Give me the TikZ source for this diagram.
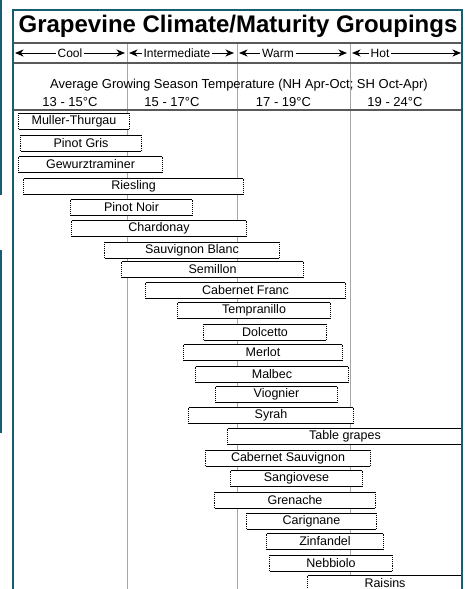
\documentclass[tikz,border=0pt]{standalone}
\usepackage{fontspec}
\setmainfont{Liberation Sans}
\usetikzlibrary{arrows.meta}

\definecolor{frameteal}{RGB}{22,94,112}

\begin{document}
\begin{tikzpicture}[
  x=1pt, y=-1pt,
  bar/.style={rectangle, fill=white, minimum height=15.5pt, inner sep=0pt, font=\fontsize{12.5}{14}\selectfont},
  outline/.style={line width=0.9pt},
  zonearrow/.style={{Stealth[length=8.5pt,width=7pt,inset=2.5pt]}-{Stealth[length=8.5pt,width=7pt,inset=2.5pt]}, line width=1pt},
  zone/.style={fill=white, inner sep=2pt, font=\fontsize{12}{14}\selectfont},
  temp/.style={anchor=base, font=\fontsize{13}{15}\selectfont},
  hrule/.style={black!65, line width=1.5pt},
  colsep/.style={black!35, line width=1pt}
]
\useasboundingbox (0,0) rectangle (469,589);
\clip (0,0) rectangle (469,589);

% Column separators
\draw[colsep] (127.5,43) -- (127.5,589);
\draw[colsep] (237,43) -- (237,589);
\draw[colsep] (350,43) -- (350,589);

% Header rules
\draw[hrule] (14,43) -- (461,43);
\draw[hrule] (14,63) -- (461,63);
\draw[hrule] (14,110) -- (461,110);

% Title
\node[anchor=base, font=\fontsize{24}{28}\selectfont\bfseries] (title) at (238,32)
  {Grapevine Climate/Maturity Groupings};

% Climate zones
\coordinate (coolL) at (15,53);  \coordinate (coolR) at (125,53);
\coordinate (interL) at (129,53); \coordinate (interR) at (234,53);
\coordinate (warmL) at (239,53);  \coordinate (warmR) at (347,53);
\coordinate (hotL) at (352,53);   \coordinate (hotR) at (461,53);
\draw[zonearrow] (coolL) -- (coolR);
\draw[zonearrow] (interL) -- (interR);
\draw[zonearrow] (warmL) -- (warmR);
\draw[zonearrow] (hotL) -- (hotR);
\node[zone] (cool) at (70,53.5) {Cool};
\node[zone] (inter) at (177,53.5) {Intermediate};
\node[zone] (warm) at (278,53.5) {Warm};
\node[zone] (hot) at (380,53.5) {Hot};

% Temperatures
\node[temp] (avg) at (239,88) {Average Growing Season Temperature (NH Apr-Oct; SH Oct-Apr)};
\node[temp] (t1) at (70,106) {13 - 15°C};
\node[temp] (t2) at (172,106) {15 - 17°C};
\node[temp] (t3) at (283.5,106) {17 - 19°C};
\node[temp] (t4) at (395,106) {19 - 24°C};

% Varieties
\node[bar, minimum width=110] (muller) at (74,121) {Muller-Thurgau};
\node[bar, minimum width=120] (pgris) at (81,143) {Pinot Gris};
\node[bar, minimum width=143] (gewurz) at (90.5,164.5) {Gewurztraminer};
\node[bar, minimum width=219] (riesling) at (133.5,186.5) {Riesling};
\node[bar, minimum width=121] (pnoir) at (131.5,207.5) {Pinot Noir};
\node[bar, minimum width=174] (chardonay) at (159,228.5) {Chardonay};
\node[bar, minimum width=174] (sblanc) at (192,250) {Sauvignon Blanc};
\node[bar, minimum width=181] (semillon) at (212.5,269.5) {Semillon};
\node[bar, minimum width=199] (cfranc) at (245.5,290.5) {Cabernet Franc};
\node[bar, minimum width=152] (tempranillo) at (254,310.5) {Tempranillo};
\node[bar, minimum width=122] (dolcetto) at (265,332) {Dolcetto};
\node[bar, minimum width=158] (merlot) at (263,352.5) {Merlot};
\node[bar, minimum width=152] (malbec) at (272,374.5) {Malbec};
\node[bar, minimum width=121] (viognier) at (276.5,394.5) {Viognier};
\node[bar, minimum width=164] (syrah) at (271,415.5) {Syrah};
\node[bar, minimum width=234] (table) at (345,436.5) {Table grapes};
\node[bar, minimum width=164] (csauv) at (288,458) {Cabernet Sauvignon};
\node[bar, minimum width=131] (sangiovese) at (296.5,478.5) {Sangiovese};
\node[bar, minimum width=160] (grenache) at (295,500) {Grenache};
\node[bar, minimum width=129] (carignane) at (311.5,521) {Carignane};
\node[bar, minimum width=116] (zinfandel) at (325,541.5) {Zinfandel};
\node[bar, minimum width=122] (nebbiolo) at (331,563) {Nebbiolo};
\node[bar, minimum width=154] (raisins) at (385,583.5) {Raisins};

% Bar outlines: solid top and bottom, dotted ends
\foreach \b in {muller,pgris,gewurz,riesling,pnoir,chardonay,sblanc,semillon,cfranc,
  tempranillo,dolcetto,merlot,malbec,viognier,syrah,table,csauv,sangiovese,grenache,
  carignane,zinfandel,nebbiolo,raisins}{
  \draw[outline] (\b.north west) -- (\b.north east) (\b.south west) -- (\b.south east);
  \draw[outline, densely dotted] (\b.north west) -- (\b.south west) (\b.north east) -- (\b.south east);
}

% Frame
\draw[frameteal, line width=2pt] (13,589) -- (13,9.5) -- (461.5,9.5) -- (461.5,589);
\draw[frameteal, line width=2pt] (1,0) -- (1,195) (1,250) -- (1,433);

\end{tikzpicture}
\end{document}
